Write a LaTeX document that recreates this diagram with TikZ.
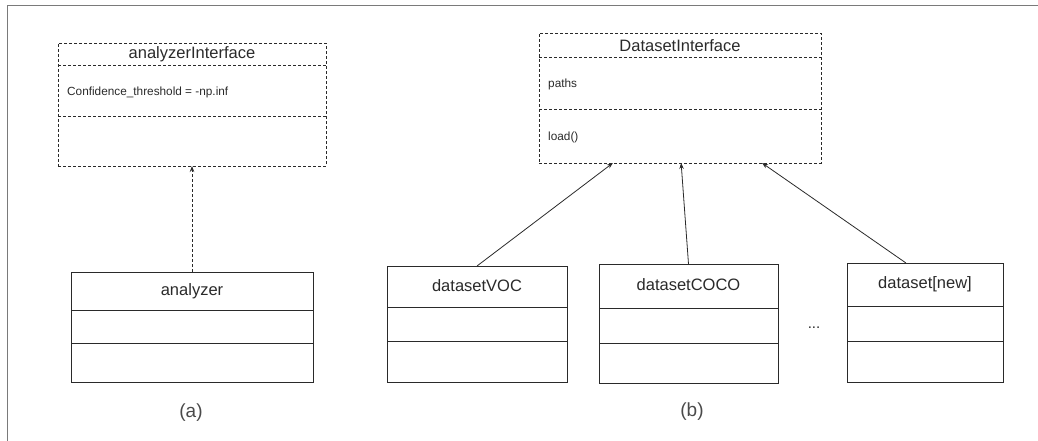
\documentclass[tikz,border=0pt]{standalone}
\usepackage{fontspec}
\setmainfont{Liberation Sans}
\usetikzlibrary{arrows.meta,calc}

\definecolor{ink}{HTML}{2A2A2A}
\definecolor{framegray}{HTML}{7A7A7A}

\tikzset{
  classbox/.style={draw=ink, line width=0.9pt, inner sep=0pt, outer sep=0pt},
  ifacebox/.style={classbox, dash pattern=on 3pt off 2pt},
  divider/.style={draw=ink, line width=0.9pt},
  ifacedivider/.style={divider, dash pattern=on 3pt off 2pt},
  titletext/.style={font=\fontsize{16.5}{19}\selectfont, text=ink, inner sep=0pt},
  membertext/.style={font=\fontsize{11.8}{14}\selectfont, text=ink, inner sep=0pt, anchor=west},
  captiontext/.style={font=\fontsize{19}{22}\selectfont, text=ink!85, inner sep=0pt},
  realize/.style={draw=ink, line width=0.8pt, dash pattern=on 3pt off 2pt,
    -{Stealth[length=6pt,width=4.5pt]}},
  inherit/.style={draw=ink, line width=0.8pt, -{Stealth[length=6pt,width=4.5pt]}},
  frameline/.style={draw=framegray, line width=1.7pt}
}

% \umlclass{name}{style}{divider style}{x1}{y1}{x2}{y2}{d1}{d2}{title}
\newcommand{\umlclass}[9]{%
  \node[#2, minimum width=#6-#4, minimum height=#7-#5] (#1) at ({(#4+#6)/2},{(#5+#7)/2}) {};
  \draw[#3] (#4,#8) -- (#6,#8);
  \draw[#3] (#4,#9) -- (#6,#9);
}

\begin{document}
\begin{tikzpicture}[x=1pt,y=-1pt]
  \useasboundingbox (0,0) rectangle (1038,441);

  % outer frame (top and left edges only)
  \draw[frameline] (7.5,441) -- (7.5,5.5) -- (1038,5.5);

  % (a) analyzer interface and its implementation
  \umlclass{ai}{ifacebox}{ifacedivider}{58}{43}{326}{166}{65}{116}
  \node[titletext] (aititle) at (192,54) {analyzerInterface};
  \node[membertext] (aiattr) at (67,92) {Confidence\_threshold = -np.inf};

  \umlclass{an}{classbox}{divider}{71}{272}{313}{382}{310}{343}
  \node[titletext] (antitle) at (192,291) {analyzer};

  \draw[realize] (an.north) -- (ai.south);
  \node[captiontext] (capa) at (191,413) {(a)};

  % (b) dataset interface and its implementations
  \umlclass{di}{ifacebox}{ifacedivider}{539}{33}{821}{163}{57}{109}
  \node[titletext] (dititle) at (680,46) {DatasetInterface};
  \node[membertext] (diattr) at (548,84) {paths};
  \node[membertext] (dimeth) at (548,137) {load()};

  \umlclass{voc}{classbox}{divider}{387}{266}{567}{382}{307}{341}
  \node[titletext] (voctitle) at (477,286) {datasetVOC};

  \umlclass{coco}{classbox}{divider}{599}{264}{778}{383}{308}{343}
  \node[titletext] (cocotitle) at (688.5,285) {datasetCOCO};

  \umlclass{new}{classbox}{divider}{847}{263}{1003}{382}{306}{341}
  \node[titletext] (newtitle) at (925,284) {dataset[new]};

  \node[font=\fontsize{15}{18}\selectfont, text=ink, inner sep=0pt] (dots) at (814,328) {...};

  \draw[inherit] (voc.north) -- ($(di.south west)!0.262!(di.south east)$);
  \draw[inherit] (coco.north) -- ($(di.south west)!0.504!(di.south east)$);
  \draw[inherit] ($(new.north west)!0.378!(new.north east)$) -- ($(di.south west)!0.791!(di.south east)$);

  \node[captiontext] (capb) at (692,412) {(b)};
\end{tikzpicture}
\end{document}
